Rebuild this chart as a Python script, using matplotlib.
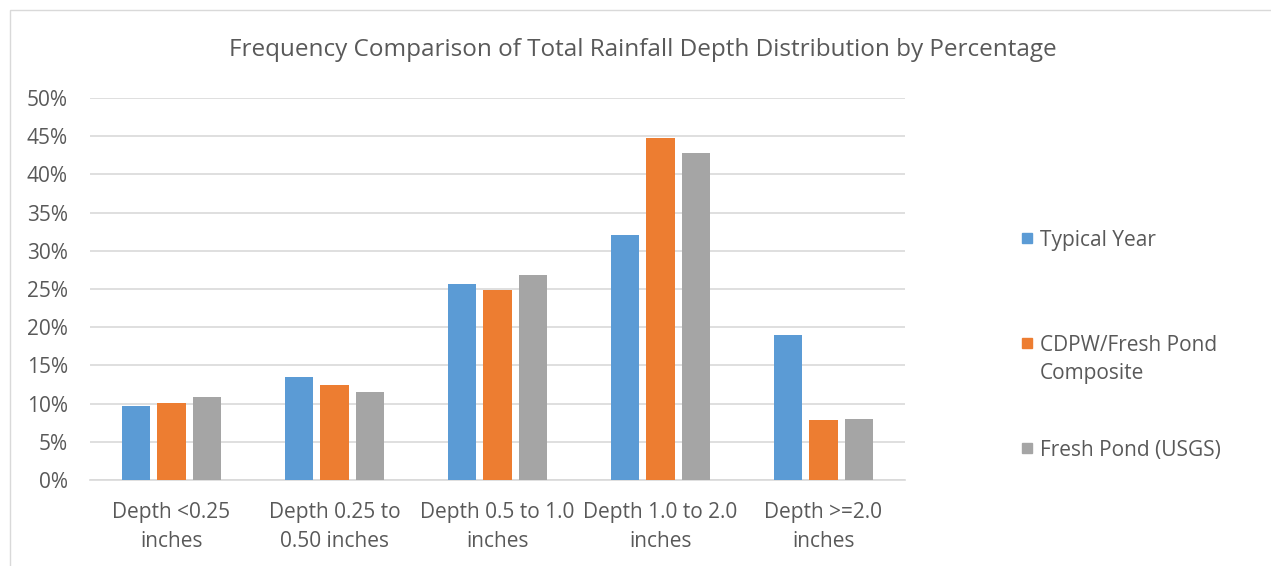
import numpy as np
import matplotlib.pyplot as plt
from matplotlib.patches import Rectangle
from matplotlib.ticker import PercentFormatter

categories = ["Depth <0.25\ninches", "Depth 0.25 to\n0.50 inches", "Depth 0.5 to 1.0\ninches",
              "Depth 1.0 to 2.0\ninches", "Depth >=2.0\ninches"]
typical_year = [9.7, 13.5, 25.6, 32.1, 19.0]
cdpw_composite = [10.1, 12.4, 24.85, 44.7, 7.8]
fresh_pond = [10.9, 11.5, 26.8, 42.8, 8.0]
series_names = ["Typical Year", "CDPW/Fresh Pond\nComposite", "Fresh Pond (USGS)"]
colors = ["#5b9bd5", "#ed7d31", "#a5a5a5"]

plt.rcParams['font.family'] = ['Open Sans', 'DejaVu Sans']
txt = "#595959"
W, H = 1271, 566

fig = plt.figure(figsize=(W / 100, H / 100), dpi=100)
# chart border
fig.patches.append(Rectangle((10 / W, -0.1), 1.2, 1 - 10 / H + 0.1, transform=fig.transFigure,
                             fill=False, edgecolor="#d9d9d9", lw=1))
ax = fig.add_axes([90 / W, 1 - 480 / H, 815 / W, 382 / H])

x = np.arange(len(categories))
w = 0.172
off = 0.22
for i, (vals, c) in enumerate(zip([typical_year, cdpw_composite, fresh_pond], colors)):
    ax.bar(x + (i - 1) * off, vals, w, color=c, zorder=3)

ax.set_xlim(-0.5, len(categories) - 0.5)
ax.set_ylim(0, 50)
ax.set_yticks(np.arange(0, 51, 5))
ax.yaxis.set_major_formatter(PercentFormatter(decimals=0))
ax.set_xticks(x)
ax.set_xticklabels(categories, linespacing=1.5)
ax.grid(axis="y", color="#d9d9d9", lw=1.2, zorder=0)
for s in ["top", "right", "left"]:
    ax.spines[s].set_visible(False)
ax.spines["bottom"].set_color("#d9d9d9")
ax.spines["bottom"].set_linewidth(1.2)
ax.tick_params(length=0, labelsize=15, colors=txt)
ax.tick_params(axis="x", pad=16)
ax.tick_params(axis="y", pad=16)

fig.text(0.506, 1 - 50 / H, "Frequency Comparison of Total Rainfall Depth Distribution by Percentage",
         ha="center", va="center", fontsize=17.5, color=txt)

# legend, marker aligned with the first line of each entry
leg_y = [238, 343, 448]
for name, c, yy in zip(series_names, colors, leg_y):
    fig.patches.append(Rectangle((1022 / W, 1 - (yy + 5) / H), 10 / W, 10 / H,
                                 transform=fig.transFigure, color=c))
    fig.text(1040 / W, 1 - (yy - 8) / H, name, ha="left", va="top", fontsize=15,
             color=txt, linespacing=1.45)

fig.savefig("out.png", dpi=100)
